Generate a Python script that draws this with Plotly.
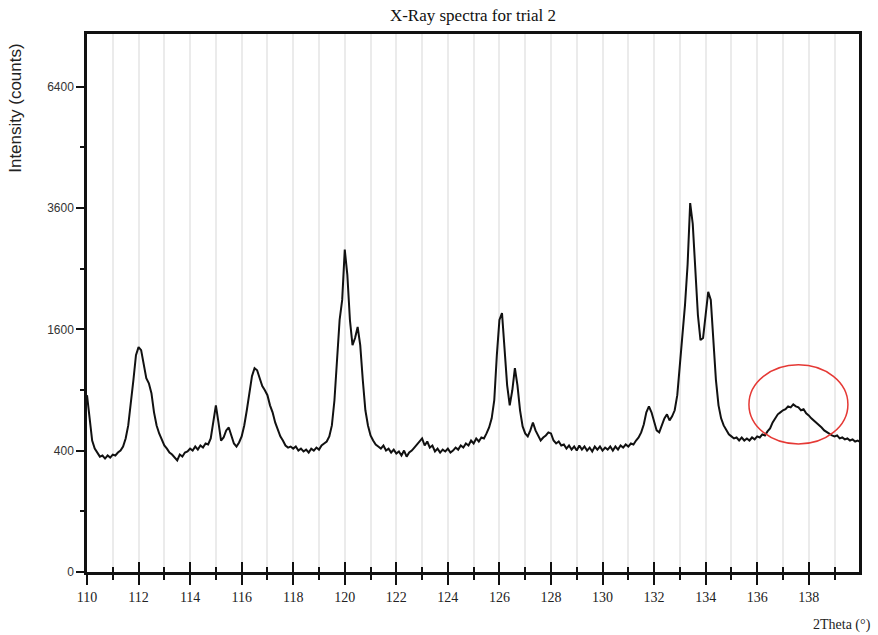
import numpy as np
import plotly.graph_objects as go

# ---- data ----
two_theta_start = 110.0
two_theta_step = 0.1
intensity_counts = [
    850, 625, 470, 414, 388, 362, 369, 350, 369, 356,
    375, 369, 388, 401, 428, 485, 584, 755, 1000, 1279,
    1375, 1339, 1163, 1021, 968, 869, 693, 584, 522, 470,
    435, 414, 388, 375, 356, 338, 375, 362, 388, 395,
    414, 401, 428, 407, 435, 421, 449, 442, 485, 625,
    755, 608, 470, 492, 545, 568, 500, 449, 428, 456,
    500, 584, 711, 850, 1043, 1130, 1107, 1021, 940, 898,
    850, 755, 693, 608, 545, 500, 470, 435, 421,
    428, 414, 428, 401, 414, 395, 407, 388, 414, 401,
    421, 407, 435, 449, 463, 500, 584, 802, 1279, 1727,
    2013, 2825, 2400, 1727, 1400, 1488, 1632, 1400, 1000, 711,
    584, 507, 470, 442, 428, 414, 435, 401, 414, 388,
    407, 382, 395, 369, 401, 362, 388, 401, 421, 442,
    463, 485, 435, 463, 421, 435, 395, 414, 388, 407,
    395, 414, 388, 401, 421, 407, 435, 421, 449, 435,
    470, 449, 485, 463, 492, 485, 522, 568, 642, 802,
    1279, 1727, 1824, 1339, 948, 755, 898, 1130, 948, 711,
    576, 522, 500, 545, 608, 545, 507, 470, 492, 507,
    530, 522, 470, 449, 463, 435, 442, 414, 435,
    407, 428, 401, 435, 407, 428, 401, 421, 395, 428,
    407, 428, 401, 421, 407, 428, 401, 428, 407, 435,
    421, 442, 428, 449, 442, 470, 492, 530, 592, 693,
    746, 693, 608, 545, 530, 584, 642, 676, 625, 659,
    711, 850, 1163, 1527, 1940, 2566, 3700, 3298, 2566, 1796,
    1463, 1488, 1796, 2133, 2013, 1400, 1000, 755, 642, 584,
    545, 515, 500, 485, 492, 470, 492, 470, 485, 470,
    492, 478, 500, 492, 515, 507, 537, 560, 608, 642,
    676, 693, 711, 720, 746, 737, 764, 746, 737, 711,
    720, 684, 667, 642, 625, 608, 584, 568, 545, 530,
    522, 507, 500, 507, 485, 492, 478, 485, 470, 478,
    463, 470, 458,
]
two_theta = np.round(two_theta_start + two_theta_step * np.arange(len(intensity_counts)), 2)

x_major_ticks = list(range(110, 139, 2))
x_minor_ticks = list(range(111, 140, 2))
y_tick_counts = [0, 400, 1600, 3600, 6400]
y_minor_counts = [100, 900, 2500, 4900]
x_range = [110, 139.95]
y_top_counts = 7870

# highlighted region (ellipse) bounds
ellipse_theta = [135.68, 139.52]
ellipse_counts = [446, 1167]

# ---- figure ----
sq = np.sqrt
y_plot = sq(np.array(intensity_counts, dtype=float))

fig = go.Figure()
fig.add_trace(go.Scatter(x=two_theta, y=y_plot, mode="lines",
                         line=dict(color="#111111", width=2),
                         showlegend=False, hoverinfo="skip"))
fig.add_trace(go.Scatter(x=two_theta, y=y_plot, mode="lines", xaxis="x2",
                         line=dict(color="rgba(0,0,0,0)", width=0),
                         showlegend=False, hoverinfo="skip"))

fig.add_shape(type="circle", xref="x", yref="y",
              x0=ellipse_theta[0], x1=ellipse_theta[1],
              y0=float(sq(ellipse_counts[0])), y1=float(sq(ellipse_counts[1])),
              line=dict(color="#e53935", width=1.5))

serif = "Liberation Serif, Times New Roman, serif"
sans = "Liberation Sans, Arial, sans-serif"
grid_col = "#ebebeb"

fig.update_layout(
    width=878, height=635,
    margin=dict(l=87, r=19, t=34, b=63),
    paper_bgcolor="white", plot_bgcolor="white",
    title=dict(text="X-Ray spectra for trial 2", x=0.5, xref="paper",
               y=1 - 15 / 635, yref="container", yanchor="middle",
               font=dict(family=serif, size=17, color="#111")),
    xaxis=dict(range=x_range, tickmode="array", tickvals=x_major_ticks,
               ticks="outside", ticklen=10, tickwidth=2, tickcolor="#111",
               showline=True, linewidth=2.5, linecolor="#111", mirror=True,
               showgrid=True, gridcolor=grid_col, gridwidth=1.5,
               zeroline=False,
               tickfont=dict(family=serif, size=14, color="#222"),
               minor=dict(tickvals=x_minor_ticks, ticks="outside", ticklen=5,
                          tickwidth=2, tickcolor="#111", showgrid=True,
                          gridcolor=grid_col, gridwidth=1.5)),
    xaxis2=dict(range=x_range, overlaying="x", side="bottom", anchor="y",
                tickmode="array", tickvals=x_major_ticks, ticks="inside",
                ticklen=10, tickwidth=2, tickcolor="#111",
                showticklabels=False, showgrid=False, showline=False,
                zeroline=False,
                minor=dict(tickvals=x_minor_ticks, ticks="inside", ticklen=5,
                           tickwidth=2, tickcolor="#111", showgrid=False)),
    yaxis=dict(range=[0, float(sq(y_top_counts))], tickmode="array",
               tickvals=[float(sq(v)) for v in y_tick_counts],
               ticktext=[str(v) for v in y_tick_counts],
               ticks="outside", ticklen=8, tickwidth=2, tickcolor="#111",
               showline=True, linewidth=2.5, linecolor="#111", mirror=True,
               showgrid=False, zeroline=False,
               tickfont=dict(family=sans, size=12, color="#333"),
               minor=dict(tickvals=[float(sq(v)) for v in y_minor_counts],
                          ticks="outside", ticklen=4, tickwidth=2,
                          tickcolor="#111", showgrid=False)),
    annotations=[
        dict(text="Intensity (counts)", xref="paper", yref="paper",
             x=(16 - 87) / 772, y=0.861, xanchor="center", yanchor="middle",
             textangle=-90, showarrow=False,
             font=dict(family=sans, size=17, color="#222")),
        dict(text="2Theta (°)", xref="paper", yref="paper",
             x=(873 - 87) / 772, y=-0.099, xanchor="right", yanchor="middle",
             showarrow=False, font=dict(family=serif, size=14, color="#222")),
    ],
)

fig.write_html("out.html")
